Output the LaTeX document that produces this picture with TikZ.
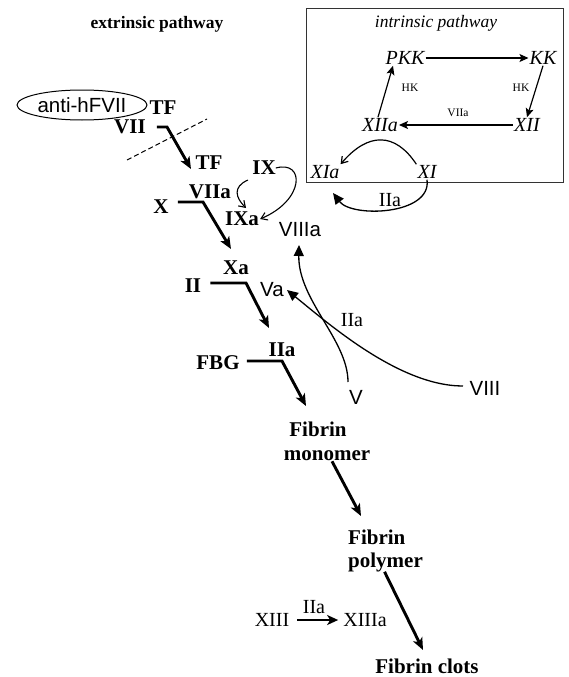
\documentclass[tikz,border=0pt]{standalone}
\usepackage{fontspec}
\setmainfont{Liberation Serif}
\setsansfont{Liberation Sans}
\usetikzlibrary{arrows.meta,shapes.geometric}
\begin{document}
\begin{tikzpicture}[x=1pt,y=-1pt,
  bl/.style={font=\fontsize{21}{23}\selectfont\bfseries, inner sep=0pt},
  sf/.style={font=\fontsize{20.5}{22}\selectfont\sffamily, inner sep=0pt},
  rm/.style={font=\fontsize{20}{22}\selectfont, inner sep=0pt},
  itx/.style={font=\fontsize{20}{22}\selectfont\itshape, inner sep=1pt},
  tiny/.style={font=\fontsize{11.5}{13}\selectfont, inner sep=0pt},
  thk/.style={line width=2.9pt, -{Stealth[length=12pt,width=10pt,inset=3pt]}},
  thn/.style={line width=1.2pt, -{Stealth[length=9pt,width=8pt,inset=2pt]}},
  opn/.style={line width=1.1pt, -{Straight Barb[length=6pt,width=8pt]}},
  tri/.style={line width=1.3pt, -{Triangle[length=11pt,width=10pt]}},
]
\useasboundingbox (0,0) rectangle (569,677);

% titles
\node[font=\fontsize{17.5}{19}\selectfont\bfseries, inner sep=0pt] (ext) at (157,24) {extrinsic pathway};

% intrinsic box
\node[draw=black!80, line width=1pt, minimum width=257pt, minimum height=173pt, inner sep=0pt] (box) at (434.5,95.5) {};
\node[font=\fontsize{17.5}{19}\selectfont\itshape, inner sep=0pt] (ip) at (436,23) {intrinsic pathway};
\node[itx] (PKK) at (405,58) {PKK};
\node[itx] (KK) at (543,58) {KK};
\node[itx] (XII) at (527,125) {XII};
\node[itx] (XIIa) at (380,125) {XIIa};
\node[itx] (XIa) at (325,172) {XIa};
\node[itx] (XI) at (427,172) {XI};
\node[tiny] (hk1) at (521,88) {HK};
\node[tiny] (hk2) at (410,88) {HK};
\node[tiny] (v7) at (458,113) {VIIa};
\draw[thn] (PKK.east) -- (KK.west);
\draw[thn] (KK.south) -- (XII.north);
\draw[thn] (XII.west) -- (XIIa.east);
\draw[thn] ([xshift=-2pt]XIIa.north) -- ([xshift=-12pt]PKK.south);
\draw[opn,line width=1.2pt] (XI.north west) .. controls (395,132) and (368,132) .. (XIa.north east);
\coordinate (xiaTip) at (333,193);
\draw[tri] (XI.south) .. controls (432,215) and (352,218) .. (xiaTip);
\node[rm] (iia1) at (390,200) {IIa};

% extrinsic part
\node[draw, ellipse, line width=1pt, minimum width=130pt, minimum height=30pt, inner sep=0pt, font=\fontsize{20.5}{22}\selectfont\sffamily] (anti) at (82,105) {anti-hFVII};
\node[bl] (TF1) at (163,108) {TF};
\node[bl] (VII) at (130,127) {VII};
\coordinate (b1) at (167,127);
\coordinate (t1) at (191,169);
\draw[thk] ([xshift=11pt]VII.east) -- (b1) -- (t1);
\coordinate (d1) at (127,160);
\coordinate (d2) at (207,119);
\draw[dashed, line width=1pt, dash pattern=on 5pt off 3pt] (d1) -- (d2);
\node[bl] (TF2) at (209,163) {TF};
\node[bl] (VIIa) at (210,192) {VIIa};
\node[bl] (X) at (161,207) {X};
\coordinate (b2) at (203,202);
\coordinate (t2) at (231,249);
\draw[thk] ([xshift=9pt]X.east|-b2) -- (b2) -- (t2);
\node[bl] (IX) at (264,168) {IX};
\node[bl] (IXa) at (242,219) {IXa};
\coordinate (s1) at (248,180);
\coordinate (s2) at (246,208);
\draw[opn] (s1) .. controls (232,187) and (236,198) .. (s2);
\draw[opn] (IX.east) .. controls (305,160) and (305,200) .. ([xshift=1pt]IXa.east);

\node[sf] (VIIIa) at (300,230) {VIIIa};
\node[sf] (Va) at (272,290) {Va};
\node[bl] (Xa) at (236,268) {Xa};
\node[bl] (II) at (193,286) {II};
\coordinate (b3) at (246,283);
\coordinate (t3) at (269,328);
\draw[thk] ([xshift=9pt]II.east|-b3) -- (b3) -- (t3);
\node[bl] (IIa2) at (282,350) {IIa};
\node[bl] (FBG) at (218,363) {FBG};
\coordinate (b4) at (282,361);
\coordinate (t4) at (306,406);
\draw[thk] ([xshift=7pt]FBG.east|-b4) -- (b4) -- (t4);

\node[sf] (V) at (356,397) {V};
\node[sf] (VIII) at (485,388) {VIII};
\node[rm] (iia3) at (352,320) {IIa};
\coordinate (vs) at (348,382);
\coordinate (vt) at (299,245);
\draw[tri] (vs) .. controls (348,340) and (298,300) .. (vt);
\coordinate (ws) at (463,386);
\coordinate (wt) at (287,290);
\draw[tri] (ws) .. controls (400,386) and (330,325) .. (wt);

% fibrin
\node[bl] (FM1) at (318,429) {Fibrin};
\node[bl] (FM2) at (327,456) {monomer};
\node[bl, anchor=west] (FP1) at (348,537) {Fibrin};
\node[bl, anchor=west] (FP2) at (348,562) {polymer};
\node[bl, anchor=base] (FC) at (427,673) {Fibrin clots};
\coordinate (t5) at (361,516);
\draw[thk] ([xshift=5pt]FM2.south) -- (t5);
\coordinate (t6) at (423,650);
\draw[thk] (FP2.south) ++(-1pt,0) coordinate (s6) (s6) -- (t6);

\node[rm] (XIII) at (272,620) {XIII};
\node[rm] (XIIIa) at (365,620) {XIIIa};
\node[rm] (iia4) at (314,607) {IIa};
\draw[line width=2.7pt, -{Stealth[length=11pt,width=10pt,inset=3pt]}] ([xshift=8pt]XIII.east) -- ([xshift=-5pt]XIIIa.west);
\end{tikzpicture}
\end{document}
